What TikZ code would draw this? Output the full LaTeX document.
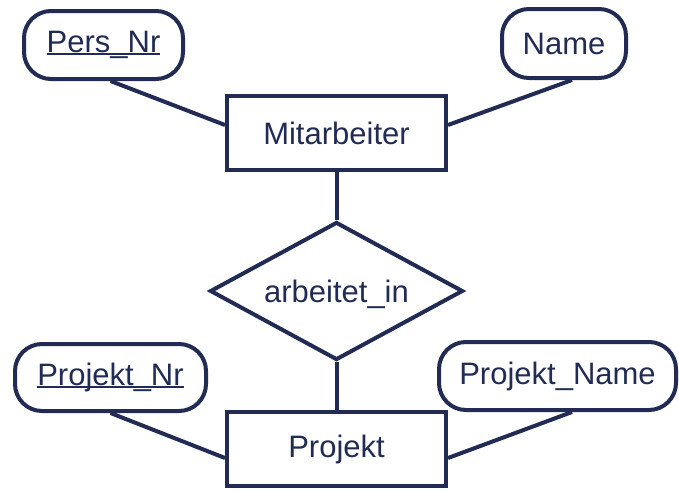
\documentclass[tikz,border=0pt]{standalone}
\usepackage{fontspec}
\setmainfont{Liberation Sans}
\usetikzlibrary{shapes.geometric,calc}
\definecolor{navy}{RGB}{33,43,84}
\newcommand\ulkey[1]{\setbox0\hbox{#1}\rlap{\rule[-2.5pt]{\wd0}{1.6pt}}\box0}
\tikzset{
  every node/.style={text=navy, font=\fontsize{31}{36}\selectfont, inner sep=0pt},
  entity/.style={draw=navy, line width=4pt, rectangle, minimum width=219pt, minimum height=74pt},
  attr/.style={draw=navy, line width=4pt, rectangle, rounded corners=27pt},
  rel/.style={draw=navy, line width=4pt, diamond, minimum width=253pt, minimum height=138pt, line join=miter},
  conn/.style={draw=navy, line width=4pt}
}
\begin{document}
\begin{tikzpicture}[x=1pt,y=-1pt]
\useasboundingbox (0,0) rectangle (679,490);
\node[attr, minimum width=159pt, minimum height=68pt] (pers) at (103.5,45) {\ulkey{Pers\_Nr}};
\node[attr, minimum width=124pt, minimum height=69pt] (name) at (564,43.5) {Name};
\node[entity] (mit) at (336.5,133) {Mitarbeiter};
\node[rel] (arb) at (336.5,291) {};
\node (arbt) at (336.5,294) {arbeitet\_in};
\node[attr, minimum width=191pt, minimum height=67pt] (pnr) at (110.5,377.5) {\ulkey{Projekt\_Nr}};
\node[attr, minimum width=237pt, minimum height=68pt] (pname) at (557.5,376) {Projekt\_Name};
\node[entity] (proj) at (336.5,449) {Projekt};
\draw[conn] ($(pers.south)+(7,0)$) -- ($(mit.west)+(0,-8)$);
\draw[conn] ($(name.south)+(8,0)$) -- ($(mit.east)+(0,-8)$);
\draw[conn] (mit.south) -- (arb.north);
\draw[conn] (arb.south) -- (proj.north);
\draw[conn] ($(pnr.south)+(0,0)$) -- ($(proj.west)+(0,9)$);
\draw[conn] ($(pname.south)+(14.5,0)$) -- ($(proj.east)+(0,9)$);
\end{tikzpicture}
\end{document}
